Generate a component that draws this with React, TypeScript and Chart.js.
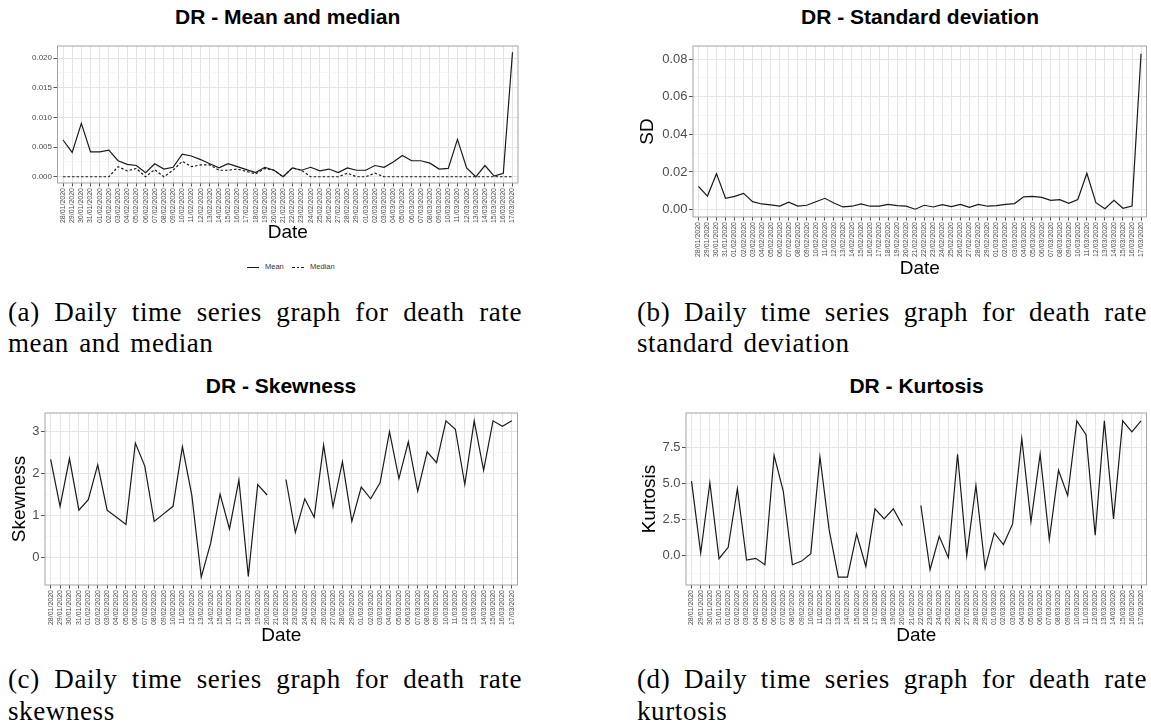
import React, { useEffect, useRef } from 'react';
import { Chart, registerables } from 'chart.js';

Chart.register(...registerables);

const dates = [
  '28/01/2020', '29/01/2020', '30/01/2020', '31/01/2020',
  '01/02/2020', '02/02/2020', '03/02/2020', '04/02/2020', '05/02/2020', '06/02/2020', '07/02/2020',
  '08/02/2020', '09/02/2020', '10/02/2020', '11/02/2020', '12/02/2020', '13/02/2020', '14/02/2020',
  '15/02/2020', '16/02/2020', '17/02/2020', '18/02/2020', '19/02/2020', '20/02/2020', '21/02/2020',
  '22/02/2020', '23/02/2020', '24/02/2020', '25/02/2020', '26/02/2020', '27/02/2020', '28/02/2020',
  '29/02/2020', '01/03/2020', '02/03/2020', '03/03/2020', '04/03/2020', '05/03/2020', '06/03/2020',
  '07/03/2020', '08/03/2020', '09/03/2020', '10/03/2020', '11/03/2020', '12/03/2020', '13/03/2020',
  '14/03/2020', '15/03/2020', '16/03/2020', '17/03/2020',
];

const meanValues = [
  0.0062, 0.0041, 0.0090, 0.0042, 0.0042, 0.0045, 0.0027, 0.0021, 0.0019, 0.0007,
  0.0022, 0.0013, 0.0016, 0.0038, 0.0035, 0.0029, 0.0022, 0.0015, 0.0022, 0.0017,
  0.0012, 0.0007, 0.0016, 0.0011, 0.0000, 0.0015, 0.0011, 0.0016, 0.0010, 0.0013,
  0.0007, 0.0015, 0.0011, 0.0011, 0.0019, 0.0016, 0.0025, 0.0036, 0.0027, 0.0027,
  0.0023, 0.0013, 0.0014, 0.0063, 0.0015, 0.0000, 0.0019, 0.0001, 0.0006, 0.0210,
];

const medianValues = [
  0, 0, 0, 0, 0, 0, 0.0017, 0.0010, 0.0014, 0,
  0.0012, 0, 0.0011, 0.0026, 0.0017, 0.0020, 0.0020, 0.0011, 0.0011, 0.0013,
  0.0009, 0.0005, 0.0014, 0.0011, 0, 0.0015, 0.0011, 0, 0, 0,
  0, 0.0006, 0, 0, 0.0006, 0, 0, 0, 0, 0,
  0, 0, 0, 0, 0, 0, 0, 0, 0, 0,
];

const sdValues = [
  0.0123, 0.0072, 0.0191, 0.0060, 0.0070, 0.0086, 0.0042, 0.0030, 0.0025, 0.0019,
  0.0039, 0.0019, 0.0023, 0.0042, 0.0060, 0.0035, 0.0014, 0.0018, 0.0030, 0.0018,
  0.0019, 0.0028, 0.0021, 0.0018, 0.0002, 0.0023, 0.0014, 0.0026, 0.0016, 0.0028,
  0.0012, 0.0028, 0.0018, 0.0021, 0.0028, 0.0032, 0.0068, 0.0070, 0.0065, 0.0049,
  0.0053, 0.0033, 0.0054, 0.0193, 0.0037, 0.0005, 0.0049, 0.0007, 0.0019, 0.0828,
];

const skewValues: (number | null)[] = [
  2.34, 1.22, 2.36, 1.13, 1.38, 2.21, 1.13, 0.96, 0.79, 2.73,
  2.18, 0.86, 1.04, 1.22, 2.64, 1.48, -0.47, 0.34, 1.51, 0.68,
  1.85, -0.45, 1.74, 1.49, null, 1.86, 0.60, 1.40, 0.96, 2.68,
  1.21, 2.28, 0.86, 1.68, 1.40, 1.78, 3.00, 1.88, 2.76, 1.58,
  2.52, 2.26, 3.26, 3.06, 1.74, 3.26, 2.08, 3.26, 3.13, 3.26,
];

const kurtValues: (number | null)[] = [
  5.17, 0.16, 5.06, -0.23, 0.56, 4.64, -0.33, -0.21, -0.65, 6.97,
  4.48, -0.65, -0.40, 0.12, 6.85, 1.79, -1.52, -1.52, 1.49, -0.77,
  3.24, 2.54, 3.24, 2.07, null, 3.47, -1.00, 1.33, -0.16, 7.04,
  -0.02, 4.87, -0.89, 1.56, 0.75, 2.19, 8.14, 2.33, 7.04, 1.10,
  5.92, 4.17, 9.37, 8.41, 1.40, 9.37, 2.54, 9.37, 8.60, 9.37,
];

const meanTicks = [0, 0.005, 0.01, 0.015, 0.02];
const sdTicks = [0, 0.02, 0.04, 0.06, 0.08];
const skewTicks = [0, 1, 2, 3];
const kurtTicks = [0, 2.5, 5, 7.5];

const SANS = '"Liberation Sans", Arial, Helvetica, sans-serif';
const SERIF = '"Liberation Serif", "Times New Roman", serif';
const MAJOR_GRID = '#e4e4e4';
const MINOR_GRID = '#f2f2f2';
const LINE_COLOR = '#1a1a1a';

type Box = { left: number; top: number; width: number; height: number };
type Plot = { l: number; t: number; r: number; b: number };
type Series = { label: string; data: (number | null)[]; dash?: number[] };
type Spec = {
  box: Box;
  plot: Plot;
  series: Series[];
  majors: number[];
  fmt: (v: number) => string;
  yFont: number;
  yTitle?: string;
  yTitleX?: number;
  xTitleY: number;
};

const borderPlugin = {
  id: 'panelBorder',
  afterDatasetsDraw(chart: any) {
    const { ctx, chartArea: a } = chart;
    ctx.save();
    ctx.strokeStyle = '#a3a3a3';
    ctx.lineWidth = 1;
    ctx.strokeRect(a.left, a.top, a.right - a.left, a.bottom - a.top);
    ctx.restore();
  },
};

function expandRange(arrays: (number | null)[][]): [number, number] {
  const all: number[] = [];
  arrays.forEach((arr) => arr.forEach((v) => { if (v !== null) all.push(v); }));
  const lo = Math.min(...all);
  const hi = Math.max(...all);
  const pad = (hi - lo) * 0.05;
  return [lo - pad, hi + pad];
}

function buildConfig(spec: Spec): any {
  const { box, plot } = spec;
  const [lo, hi] = expandRange(spec.series.map((s) => s.data));
  const step = spec.majors[1] - spec.majors[0];
  const eps = step * 1e-3;
  const isMajor = (v: number) => spec.majors.some((m) => Math.abs(m - v) < eps);
  const tickValues: number[] = spec.majors.filter((m) => m >= lo && m <= hi);
  for (let v = spec.majors[0] - step / 2; v <= hi; v += step) {
    if (v >= lo) tickValues.push(v);
  }
  tickValues.sort((a, b) => a - b);

  const padTop = plot.t - box.top;
  const padRight = box.left + box.width - plot.r;
  const yWidth = plot.l - box.left;
  const xHeight = box.top + box.height - plot.b;
  const titleSize = 19;

  return {
    type: 'line',
    data: {
      datasets: spec.series.map((s) => ({
        label: s.label,
        data: s.data.map((v, i) => ({ x: i, y: v })),
        borderColor: LINE_COLOR,
        backgroundColor: LINE_COLOR,
        borderWidth: 1.2,
        borderDash: s.dash || [],
        pointRadius: 0,
        pointHoverRadius: 0,
        tension: 0,
        fill: false,
        spanGaps: false,
      })),
    },
    options: {
      animation: false,
      responsive: false,
      maintainAspectRatio: false,
      events: [],
      layout: { padding: { top: padTop, right: padRight, left: 0, bottom: 0 } },
      plugins: {
        legend: { display: false },
        title: { display: false },
        tooltip: { enabled: false },
      },
      scales: {
        x: {
          type: 'linear',
          min: -0.6,
          max: dates.length - 1 + 0.6,
          afterBuildTicks: (s: any) => { s.ticks = dates.map((_, i) => ({ value: i })); },
          afterFit: (s: any) => { s.height = xHeight; },
          ticks: {
            autoSkip: false,
            minRotation: 90,
            maxRotation: 90,
            padding: 1.5,
            font: { family: SANS, size: 7 },
            color: '#4d4d4d',
            callback: (v: any) => dates[Math.round(Number(v))] ?? '',
          },
          grid: {
            color: MAJOR_GRID,
            lineWidth: 1,
            drawTicks: true,
            tickLength: 3.5,
            tickColor: '#555555',
            tickWidth: 1,
          },
          border: { display: false },
          title: {
            display: true,
            text: 'Date',
            color: '#000',
            font: { family: SANS, size: titleSize, lineHeight: 1 },
            padding: { top: 0, bottom: box.top + box.height - spec.xTitleY - titleSize / 2 },
          },
        },
        y: {
          type: 'linear',
          min: lo,
          max: hi,
          bounds: 'data',
          afterBuildTicks: (s: any) => { s.ticks = tickValues.map((v) => ({ value: v })); },
          afterFit: (s: any) => { s.width = yWidth; },
          ticks: {
            autoSkip: false,
            padding: 1.5,
            font: { family: SANS, size: spec.yFont },
            color: '#4d4d4d',
            callback: (v: any) => (isMajor(Number(v)) ? spec.fmt(Number(v)) : ''),
          },
          grid: {
            color: (c: any) => (c.tick && isMajor(c.tick.value) ? MAJOR_GRID : MINOR_GRID),
            lineWidth: (c: any) => (c.tick && isMajor(c.tick.value) ? 1 : 0.6),
            drawTicks: true,
            tickLength: 4,
            tickColor: (c: any) => (c.tick && isMajor(c.tick.value) ? '#555555' : 'rgba(0,0,0,0)'),
            tickWidth: 1,
          },
          border: { display: false },
          title: spec.yTitle
            ? {
                display: true,
                text: spec.yTitle,
                color: '#000',
                font: { family: SANS, size: titleSize, lineHeight: 1 },
                padding: { top: (spec.yTitleX as number) - box.left - titleSize / 2, bottom: 0 },
              }
            : { display: false },
        },
      },
    },
    plugins: [borderPlugin],
  };
}

const specs: Spec[] = [
  {
    box: { left: 0, top: 30, width: 575, height: 215 },
    plot: { l: 57.5, t: 46, r: 518, b: 183 },
    series: [
      { label: 'Mean', data: meanValues },
      { label: 'Median', data: medianValues, dash: [2.5, 2] },
    ],
    majors: meanTicks,
    fmt: (v) => v.toFixed(3),
    yFont: 8,
    xTitleY: 233,
  },
  {
    box: { left: 580, top: 30, width: 571, height: 250 },
    plot: { l: 693, t: 46, r: 1147, b: 217 },
    series: [{ label: 'SD', data: sdValues }],
    majors: sdTicks,
    fmt: (v) => v.toFixed(2),
    yFont: 13,
    yTitle: 'SD',
    yTitleX: 648,
    xTitleY: 268.5,
  },
  {
    box: { left: 0, top: 400, width: 575, height: 250 },
    plot: { l: 45, t: 413, r: 517.5, b: 585 },
    series: [{ label: 'Skewness', data: skewValues }],
    majors: skewTicks,
    fmt: (v) => String(Math.round(v)),
    yFont: 13,
    yTitle: 'Skewness',
    yTitleX: 20,
    xTitleY: 636,
  },
  {
    box: { left: 580, top: 400, width: 571, height: 250 },
    plot: { l: 686, t: 413, r: 1147, b: 585 },
    series: [{ label: 'Kurtosis', data: kurtValues }],
    majors: kurtTicks,
    fmt: (v) => v.toFixed(1),
    yFont: 13,
    yTitle: 'Kurtosis',
    yTitleX: 650,
    xTitleY: 636,
  },
];

const titles = [
  { text: 'DR - Mean and median', x: 287.7, y: 16 },
  { text: 'DR - Standard deviation', x: 920, y: 16 },
  { text: 'DR - Skewness', x: 281, y: 385 },
  { text: 'DR - Kurtosis', x: 916.5, y: 385 },
];

const captions = [
  { line1: '(a) Daily time series graph for death rate', line2: 'mean and median', left: 8, width: 514, baseline: 321.7 },
  { line1: '(b) Daily time series graph for death rate', line2: 'standard deviation', left: 637, width: 510, baseline: 321.7 },
  { line1: '(c) Daily time series graph for death rate', line2: 'skewness', left: 8, width: 514, baseline: 689.3 },
  { line1: '(d) Daily time series graph for death rate', line2: 'kurtosis', left: 637, width: 510, baseline: 689.3 },
];

function Panel({ spec }: { spec: Spec }) {
  const ref = useRef<HTMLCanvasElement | null>(null);
  useEffect(() => {
    if (!ref.current) return;
    const chart = new Chart(ref.current, buildConfig(spec));
    return () => chart.destroy();
  }, [spec]);
  const { box } = spec;
  return (
    <canvas
      ref={ref}
      width={box.width}
      height={box.height}
      style={{ position: 'absolute', left: box.left, top: box.top, width: box.width, height: box.height }}
    />
  );
}

const CAP_SIZE = 27;
const CAP_LH = 31.5;
const capBaselineOffset = (CAP_LH - 1.107 * CAP_SIZE) / 2 + 0.891 * CAP_SIZE;

export default function App() {
  return (
    <div
      style={{
        position: 'absolute',
        left: 0,
        top: 0,
        width: 1151,
        height: 727,
        background: '#ffffff',
        overflow: 'hidden',
      }}
    >
      {specs.map((s, i) => (
        <Panel key={i} spec={s} />
      ))}
      {titles.map((t, i) => (
        <div
          key={'t' + i}
          style={{
            position: 'absolute',
            left: t.x,
            top: t.y,
            transform: 'translate(-50%, -50%)',
            fontFamily: SANS,
            fontWeight: 'bold',
            fontSize: 21,
            lineHeight: 1,
            whiteSpace: 'nowrap',
            color: '#000',
          }}
        >
          {t.text}
        </div>
      ))}
      {/* legend for panel (a) */}
      <div style={{ position: 'absolute', left: 247, top: 266.5, width: 12, height: 1.2, background: LINE_COLOR }} />
      <div
        style={{
          position: 'absolute', left: 265, top: 267, transform: 'translateY(-50%)',
          fontFamily: SANS, fontSize: 7.5, lineHeight: 1, color: '#333', whiteSpace: 'nowrap',
        }}
      >
        Mean
      </div>
      <div
        style={{
          position: 'absolute', left: 292, top: 266.5, width: 13, height: 1.2,
          background: `repeating-linear-gradient(to right, ${LINE_COLOR} 0px, ${LINE_COLOR} 2.5px, transparent 2.5px, transparent 4.5px)`,
        }}
      />
      <div
        style={{
          position: 'absolute', left: 310, top: 267, transform: 'translateY(-50%)',
          fontFamily: SANS, fontSize: 7.5, lineHeight: 1, color: '#333', whiteSpace: 'nowrap',
        }}
      >
        Median
      </div>
      {captions.map((c, i) => (
        <React.Fragment key={'c' + i}>
          <div
            style={{
              position: 'absolute',
              left: c.left,
              top: c.baseline - capBaselineOffset,
              width: c.width,
              fontFamily: SERIF,
              fontSize: CAP_SIZE,
              lineHeight: `${CAP_LH}px`,
              letterSpacing: '0.6px',
              textAlign: 'justify',
              textAlignLast: 'justify' as any,
              whiteSpace: 'nowrap',
              color: '#000',
            }}
          >
            {c.line1}
          </div>
          <div
            style={{
              position: 'absolute',
              left: c.left,
              top: c.baseline - capBaselineOffset + CAP_LH,
              fontFamily: SERIF,
              fontSize: CAP_SIZE,
              lineHeight: `${CAP_LH}px`,
              letterSpacing: '0.6px',
              wordSpacing: '3px',
              whiteSpace: 'nowrap',
              color: '#000',
            }}
          >
            {c.line2}
          </div>
        </React.Fragment>
      ))}
    </div>
  );
}
